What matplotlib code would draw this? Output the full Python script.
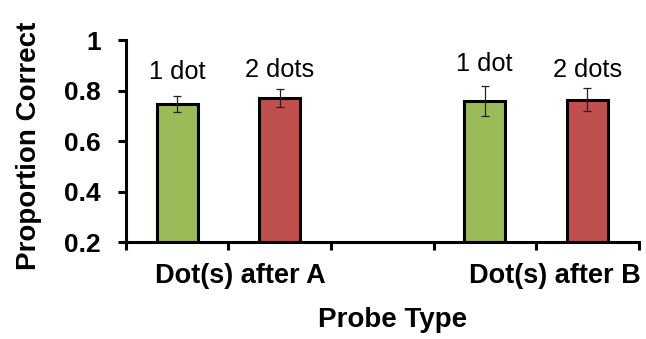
import numpy as np
import matplotlib.pyplot as plt

plt.rcParams['font.family'] = ['Liberation Sans', 'DejaVu Sans']

# five category slots, the middle one left empty as a gap between groups
slot_pos = [0, 1, 3, 4]
means = [0.745, 0.771, 0.758, 0.764]
errs = [0.032, 0.036, 0.059, 0.047]
colors = ['#9BBB59', '#C0504D', '#9BBB59', '#C0504D']
bar_labels = ['1 dot', '2 dots', '1 dot', '2 dots']
label_y = [0.873, 0.881, 0.905, 0.881]
group_names = ['Dot(s) after A', 'Dot(s) after B']
group_pos = [0.62, 3.68]
yticks = [0.2, 0.4, 0.6, 0.8, 1.0]
ytick_labels = ['0.2', '0.4', '0.6', '0.8', '1']

fig = plt.figure(figsize=(6.46, 3.39), dpi=100)
ax = fig.add_axes([0.195, 0.2861, 0.7935, 0.5959])

ax.bar(slot_pos, [m - 0.2 for m in means], bottom=0.2, width=0.4,
       color=colors, edgecolor='black', linewidth=2.2, zorder=2)
ax.errorbar(slot_pos, means, yerr=errs, fmt='none', ecolor='#222222',
            elinewidth=0.9, capsize=3, capthick=0.9, zorder=3)

for x, y, t in zip(slot_pos, label_y, bar_labels):
    ax.text(x, y, t, ha='center', va='center', fontsize=18.3)

ax.set_xlim(-0.5, 4.5)
ax.set_ylim(0.2, 1.0)
ax.set_yticks(yticks)
ax.set_yticklabels(ytick_labels, fontsize=19, fontweight='bold')
ax.set_xticks(np.arange(-0.5, 5, 1))
ax.set_xticklabels([])

for x, t in zip(group_pos, group_names):
    ax.text(x, -0.205, t, transform=ax.get_xaxis_transform(), ha='center',
            va='baseline', fontsize=19.5, fontweight='bold')

ax.text(0.521, -0.42, 'Probe Type', transform=ax.transAxes, ha='center',
        va='baseline', fontsize=20, fontweight='bold')
ax.set_ylabel('Proportion Correct', fontsize=20, fontweight='bold')
ax.yaxis.set_label_coords(-0.164, 0.475)

for s in ['top', 'right']:
    ax.spines[s].set_visible(False)
for s in ['left', 'bottom']:
    ax.spines[s].set_linewidth(2.2)
ax.tick_params(axis='both', width=2.2, length=6, direction='out')
ax.tick_params(axis='y', pad=12)

fig.savefig('out.png', dpi=100)
